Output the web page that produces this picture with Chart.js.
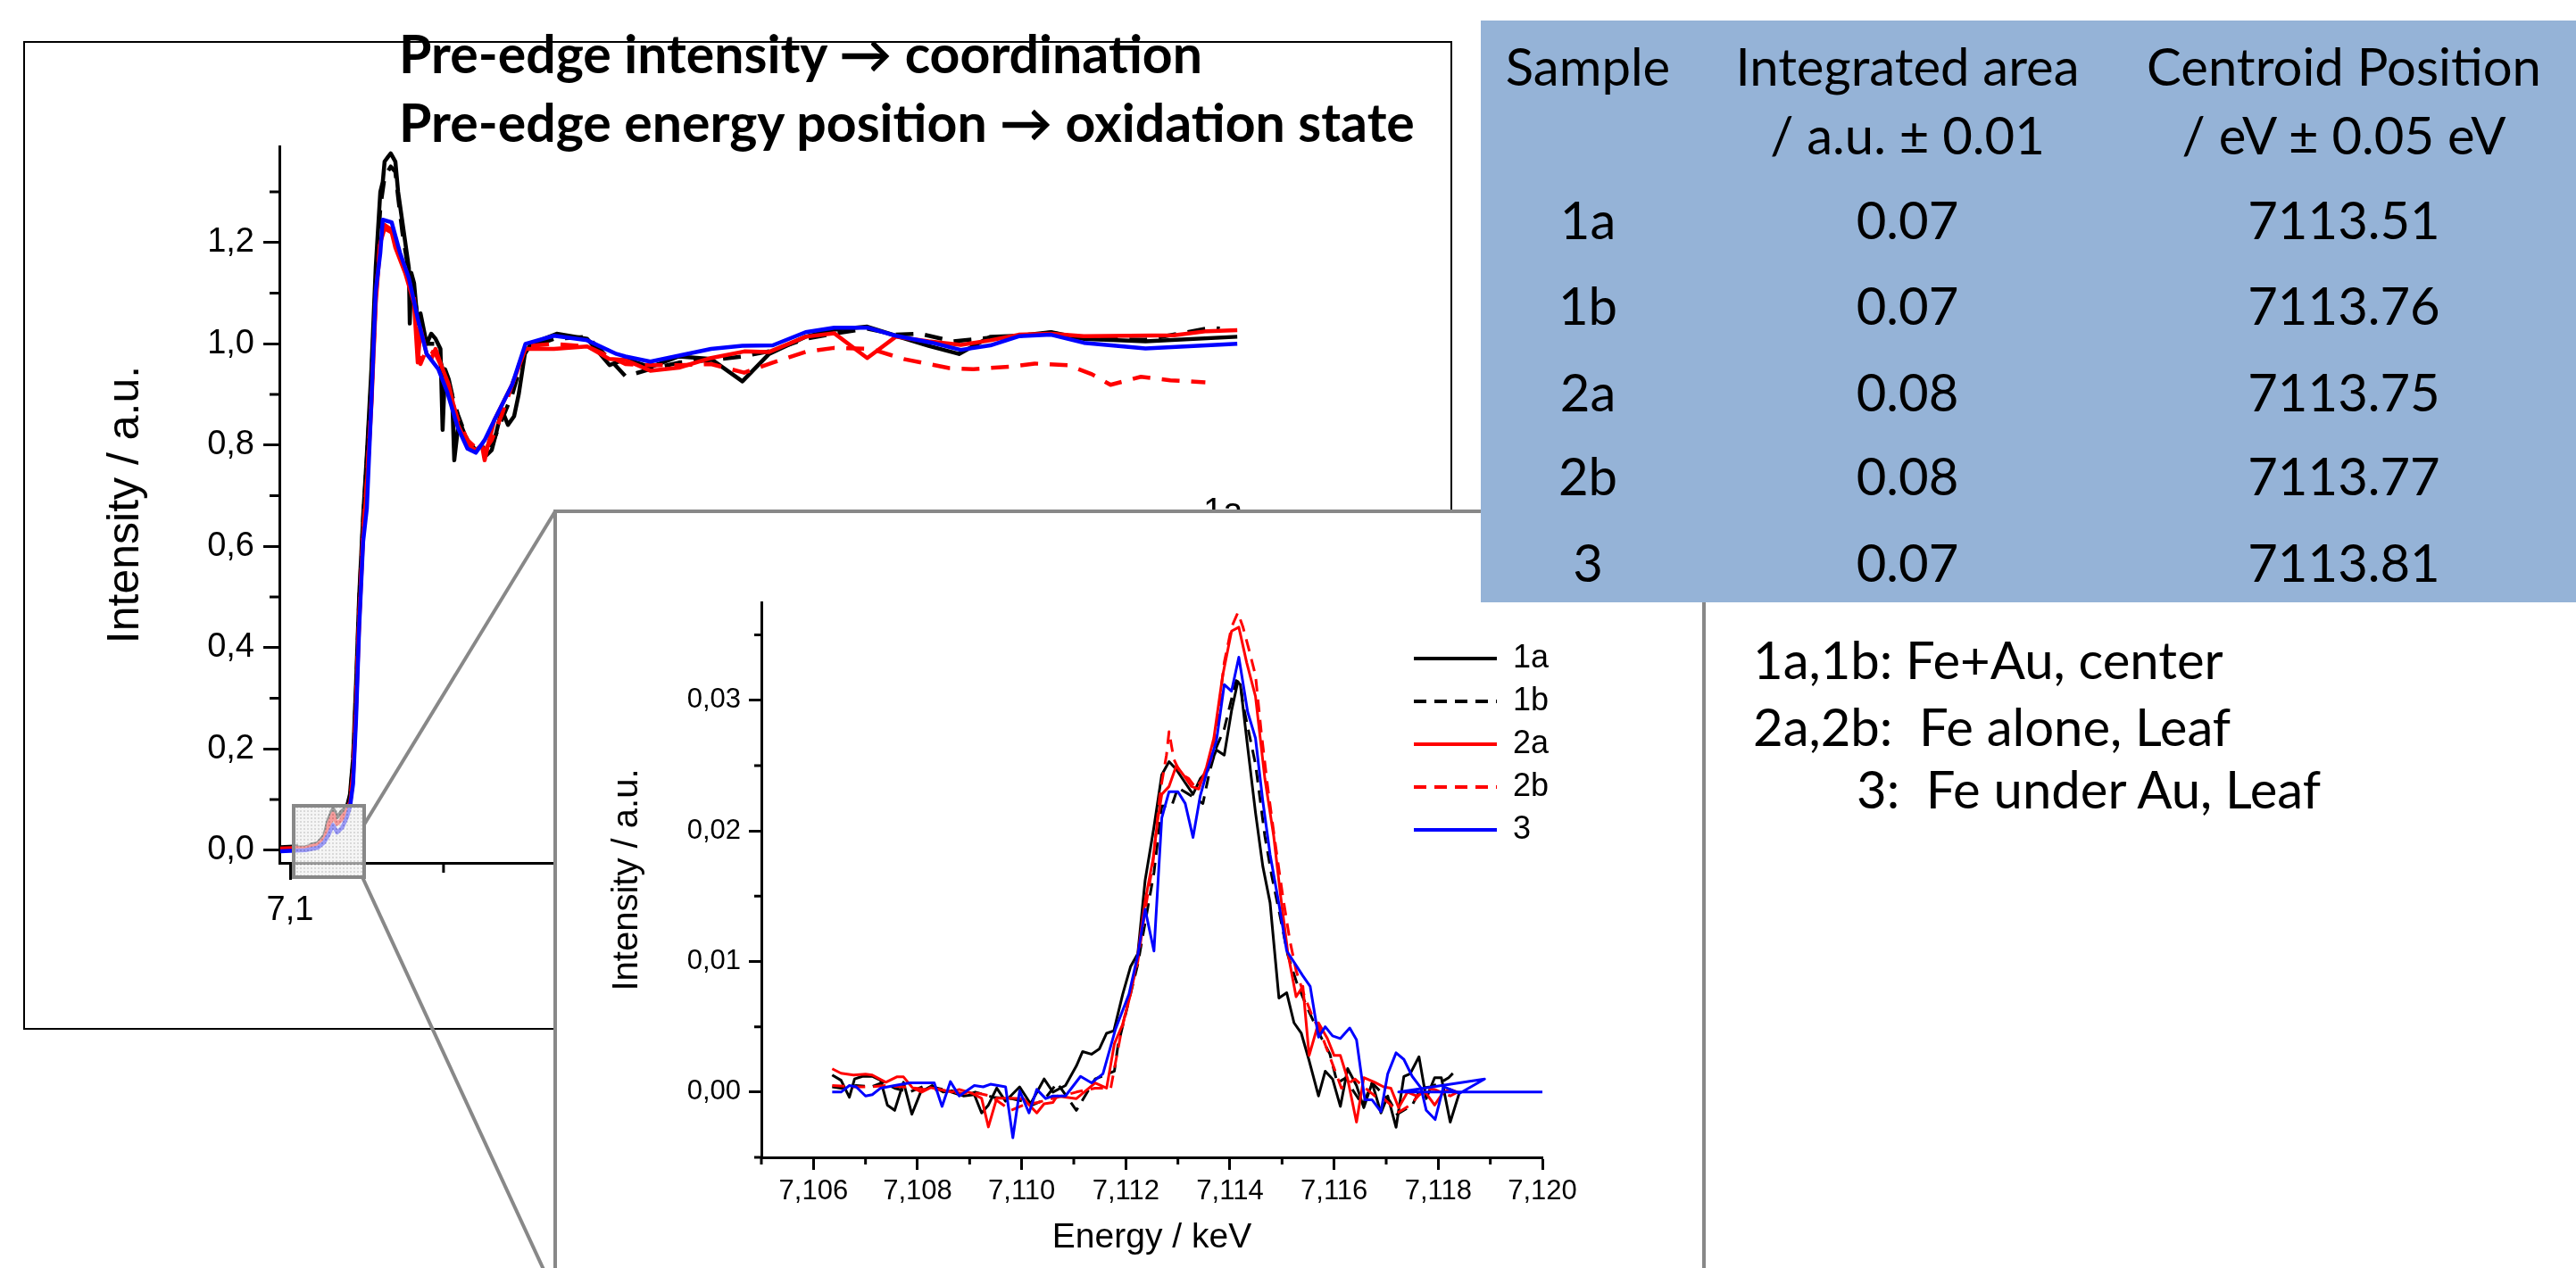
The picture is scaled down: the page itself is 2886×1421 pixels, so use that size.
<!DOCTYPE html>
<html>
<head>
<meta charset="utf-8">
<script src="https://cdn.jsdelivr.net/npm/chart.js@4.4.0/dist/chart.umd.min.js"></script>
<style>
  html, body { margin: 0; padding: 0; }
  body { width: 2886px; height: 1421px; overflow: hidden; position: relative; background: #fff; font-family: 'Liberation Sans', Arial, sans-serif; }
  .abs { position: absolute; }
  #mainBox { left: 26px; top: 46px; width: 1601px; height: 1108px; border: 2px solid #000; box-sizing: border-box; background: #fff; z-index: 1; }
  #mainBox canvas, #insetBox canvas { position: absolute; left: 0; top: 0; }
  .ttl { font-family: Lato, 'Open Sans', sans-serif; font-weight: 700; font-size: 59px; line-height: 59px; white-space: nowrap; z-index: 2; color: #000; }
  #zoomMarks { left: 0; top: 0; z-index: 2; }
  #insetBox { left: 620px; top: 571px; width: 1291px; height: 870px; border: 4px solid #888; box-sizing: border-box; background: #fff; z-index: 3; }
  #table { left: 1659px; top: 23px; width: 1227px; height: 652px; background: #95b3d7; z-index: 4; }
  .cell { position: absolute; transform: translate(-50%, -50%); font-family: Lato, 'Open Sans', sans-serif; font-size: 58px; white-space: pre; color: #000; }
  .note { font-family: Lato, 'Open Sans', sans-serif; font-size: 58px; line-height: 58px; white-space: pre; z-index: 4; color: #000; }
</style>
</head>
<body>

<div id="mainBox" class="abs"><canvas id="mainChart" width="1597" height="1104"></canvas></div>
<div class="abs ttl" style="left:447px; top:30px;">Pre-edge intensity → coordination</div>
<div class="abs ttl" style="left:447px; top:107px;">Pre-edge energy position → oxidation state</div>

<svg id="zoomMarks" class="abs" width="2886" height="1421">
  <defs>
    <pattern id="dots" width="4" height="4" patternUnits="userSpaceOnUse">
      <rect width="4" height="4" fill="#f0f0f0"/>
      <rect width="2" height="2" fill="#c4c4c4"/>
    </pattern>
  </defs>
  <rect x="329" y="903" width="79" height="80" fill="url(#dots)" fill-opacity="0.65" stroke="#888" stroke-width="4"/>
  <line x1="408" y1="924" x2="622" y2="573" stroke="#888" stroke-width="4"/>
  <line x1="406" y1="983" x2="617" y2="1440" stroke="#888" stroke-width="4"/>
</svg>

<div id="insetBox" class="abs"><canvas id="insetChart" width="1283" height="862"></canvas></div>

<div id="table" class="abs"></div>
<div id="notes"></div>

<script>
// ---- main XANES spectra: [energy / keV, intensity / a.u.] ----
const main1a = [[7.0968,0.004],[7.105,0.006],[7.109,0.012],[7.111,0.025],[7.1125,0.06],[7.114,0.082],[7.1153,0.065],[7.117,0.078],[7.1185,0.085],[7.1195,0.11],[7.1205,0.18],[7.1215,0.33],[7.1225,0.5],[7.1238,0.66],[7.125,0.78],[7.1265,0.95],[7.1279,1.15],[7.1294,1.30],[7.1302,1.32],[7.1308,1.36],[7.132,1.37],[7.1328,1.376],[7.1343,1.36],[7.1352,1.30],[7.1366,1.24],[7.1387,1.15],[7.139,1.04],[7.1395,1.14],[7.1404,1.12],[7.1416,1.04],[7.1425,1.06],[7.1445,1.0],[7.146,1.02],[7.1474,1.01],[7.149,0.99],[7.1497,0.83],[7.1505,0.95],[7.1517,0.93],[7.1528,0.9],[7.1535,0.77],[7.155,0.85],[7.157,0.82],[7.159,0.79],[7.1608,0.79],[7.1625,0.8],[7.164,0.78],[7.1657,0.79],[7.167,0.82],[7.169,0.87],[7.171,0.84],[7.173,0.857],[7.1745,0.9],[7.1765,0.98],[7.1785,1.0],[7.1869,1.02],[7.1968,1.01],[7.2041,0.958],[7.2093,0.97],[7.2174,0.954],[7.2267,0.975],[7.2372,0.97],[7.2474,0.926],[7.2561,0.98],[7.268,1.014],[7.2773,1.028],[7.2881,1.034],[7.2974,1.016],[7.3081,0.996],[7.318,0.98],[7.3282,1.014],[7.3375,1.016],[7.348,1.023],[7.3587,1.01],[7.3788,1.005],[7.4087,1.014]];
const main1b = [[7.0968,0.006],[7.105,0.008],[7.109,0.014],[7.111,0.028],[7.1125,0.058],[7.114,0.078],[7.1153,0.064],[7.117,0.074],[7.1185,0.084],[7.1195,0.105],[7.1205,0.17],[7.1215,0.31],[7.1225,0.49],[7.1238,0.65],[7.125,0.77],[7.1265,0.93],[7.1279,1.12],[7.1294,1.27],[7.1308,1.33],[7.1328,1.35],[7.1343,1.34],[7.1352,1.29],[7.1366,1.22],[7.1387,1.14],[7.1404,1.10],[7.1416,1.05],[7.1445,1.0],[7.1474,1.0],[7.1497,0.95],[7.1517,0.92],[7.1547,0.86],[7.1578,0.81],[7.1605,0.79],[7.1634,0.80],[7.1657,0.80],[7.169,0.85],[7.1724,0.90],[7.1767,0.99],[7.186,1.01],[7.1968,1.014],[7.2041,0.97],[7.2093,0.936],[7.2174,0.95],[7.2267,0.963],[7.2372,0.968],[7.2474,0.975],[7.2561,0.985],[7.268,1.01],[7.2773,1.02],[7.2881,1.03],[7.2974,1.018],[7.3052,1.02],[7.316,1.005],[7.3282,1.012],[7.3375,1.016],[7.348,1.022],[7.3587,1.01],[7.3788,1.008],[7.4003,1.032],[7.403,1.03]];
const main2a = [[7.0968,0.002],[7.105,0.004],[7.109,0.01],[7.111,0.02],[7.1125,0.045],[7.114,0.068],[7.1153,0.052],[7.117,0.062],[7.1185,0.075],[7.1195,0.09],[7.1205,0.14],[7.1215,0.28],[7.1225,0.45],[7.1238,0.62],[7.125,0.72],[7.1265,0.88],[7.1279,1.08],[7.1294,1.2],[7.1308,1.228],[7.1331,1.22],[7.1343,1.19],[7.1375,1.14],[7.1404,1.08],[7.1416,0.963],[7.1425,1.03],[7.1445,0.98],[7.146,0.97],[7.1474,0.99],[7.1497,0.95],[7.1517,0.92],[7.1547,0.84],[7.1578,0.80],[7.1605,0.79],[7.1625,0.80],[7.1634,0.77],[7.1645,0.80],[7.1666,0.85],[7.1724,0.92],[7.1767,0.99],[7.186,0.99],[7.1968,0.995],[7.2041,0.97],[7.2093,0.968],[7.2174,0.947],[7.2267,0.953],[7.2372,0.972],[7.248,0.985],[7.2561,0.984],[7.268,1.014],[7.2773,1.021],[7.2881,0.972],[7.2974,1.014],[7.3081,1.005],[7.3186,0.998],[7.3282,1.007],[7.3375,1.018],[7.348,1.02],[7.3587,1.015],[7.3881,1.017],[7.3988,1.025],[7.4087,1.027]];
const main2b = [[7.0968,0.003],[7.105,0.005],[7.109,0.011],[7.111,0.022],[7.1125,0.05],[7.114,0.072],[7.1153,0.055],[7.117,0.066],[7.1185,0.078],[7.1195,0.095],[7.1205,0.15],[7.1215,0.29],[7.1225,0.46],[7.1238,0.63],[7.125,0.73],[7.1265,0.89],[7.1279,1.09],[7.1294,1.21],[7.1308,1.235],[7.1331,1.225],[7.1343,1.2],[7.1375,1.15],[7.1404,1.09],[7.1416,1.0],[7.1425,0.96],[7.1445,0.99],[7.1474,0.98],[7.1497,0.95],[7.1517,0.91],[7.1547,0.85],[7.1578,0.81],[7.1605,0.795],[7.1634,0.79],[7.1657,0.81],[7.169,0.86],[7.1724,0.92],[7.1767,0.995],[7.186,1.0],[7.1968,0.995],[7.2041,0.975],[7.2093,0.96],[7.2174,0.958],[7.2267,0.958],[7.2372,0.96],[7.248,0.943],[7.2573,0.963],[7.268,0.984],[7.2773,0.992],[7.2892,0.99],[7.3,0.97],[7.3148,0.952],[7.3227,0.95],[7.3348,0.955],[7.3427,0.961],[7.3535,0.958],[7.3613,0.94],[7.3674,0.919],[7.3773,0.935],[7.3869,0.928],[7.3983,0.924]];
const main3 = [[7.0968,-0.002],[7.105,0.0],[7.109,0.005],[7.111,0.015],[7.1125,0.03],[7.114,0.05],[7.1153,0.035],[7.117,0.045],[7.1185,0.065],[7.1195,0.085],[7.1205,0.13],[7.1215,0.26],[7.1225,0.44],[7.1238,0.61],[7.125,0.675],[7.1265,0.887],[7.1279,1.104],[7.1294,1.18],[7.1302,1.245],[7.1331,1.24],[7.1358,1.18],[7.1387,1.13],[7.1416,1.05],[7.1445,0.98],[7.1483,0.95],[7.1512,0.905],[7.1547,0.834],[7.1578,0.793],[7.1605,0.785],[7.1634,0.81],[7.1666,0.85],[7.1724,0.92],[7.1767,1.0],[7.186,1.016],[7.1968,1.007],[7.2064,0.98],[7.2093,0.975],[7.2174,0.965],[7.2372,0.99],[7.2474,0.996],[7.2573,0.997],[7.268,1.023],[7.2773,1.032],[7.2881,1.032],[7.2974,1.016],[7.3093,1.002],[7.3186,0.988],[7.3282,0.997],[7.3375,1.015],[7.348,1.018],[7.3587,1.002],[7.3788,0.991],[7.4087,1.0]];

// ---- pre-edge (inset): [energy / keV, intensity / a.u.] ----
const pre1a = [[7.10636,0.0013],[7.10653,0.0009],[7.10669,-0.0004],[7.10679,0.001],[7.10694,0.0012],[7.10713,0.0012],[7.10729,0.0009],[7.10742,-0.001],[7.10756,-0.0014],[7.10773,0.00075],[7.10789,-0.0017],[7.10806,0.0],[7.10828,0.0005],[7.10849,0.0],[7.10866,0.0001],[7.10888,-0.0003],[7.10909,-0.0002],[7.10923,-0.0016],[7.10936,-0.001],[7.10952,0.0003],[7.10969,-0.0007],[7.10996,0.0004],[7.11017,-0.0009],[7.11043,0.001],[7.1106,0.0],[7.11084,0.0005],[7.11105,0.002],[7.11117,0.0031],[7.11134,0.0029],[7.11149,0.0033],[7.11163,0.0045],[7.11177,0.0047],[7.11194,0.0075],[7.11209,0.0096],[7.11223,0.0106],[7.11237,0.0162],[7.11254,0.0203],[7.11269,0.0243],[7.11283,0.0253],[7.11297,0.0247],[7.11312,0.0238],[7.11329,0.0228],[7.11343,0.024],[7.11357,0.0246],[7.11374,0.0262],[7.11389,0.0258],[7.11403,0.0292],[7.11415,0.0314],[7.1142,0.0312],[7.11434,0.0264],[7.11449,0.0214],[7.11463,0.0173],[7.11477,0.0145],[7.11494,0.0072],[7.11509,0.0076],[7.11523,0.0053],[7.11537,0.0045],[7.11552,0.0024],[7.1157,-0.0003],[7.11583,0.0016],[7.11597,0.001],[7.11612,-0.0011],[7.11626,0.0018],[7.11643,0.0005],[7.11657,-0.0012],[7.11673,0.0007],[7.1169,-0.0016],[7.11703,-0.0003],[7.11719,-0.0027],[7.11734,0.0012],[7.11746,0.0014],[7.11763,0.0027],[7.11777,-0.0005],[7.11793,0.0011],[7.11806,0.0011],[7.11823,-0.0023],[7.11841,0.0]];
const pre1b = [[7.10636,0.0004],[7.10653,0.0003],[7.10682,0.0005],[7.10712,0.0004],[7.10734,0.00075],[7.10756,0.0003],[7.10785,0.0],[7.10815,0.0005],[7.10849,0.0002],[7.10888,-0.0003],[7.10911,0.0],[7.10945,-0.0004],[7.10979,-0.0005],[7.11003,-0.0007],[7.1102,-0.001],[7.11043,-0.0006],[7.11068,0.0007],[7.11105,-0.0014],[7.11141,0.001],[7.11178,0.0016],[7.11185,0.0036],[7.11223,0.0098],[7.11254,0.0168],[7.11269,0.0219],[7.11288,0.0219],[7.113,0.0233],[7.11321,0.0228],[7.11348,0.0221],[7.1136,0.0244],[7.11374,0.0264],[7.11389,0.0278],[7.11403,0.0301],[7.11412,0.0315],[7.1142,0.0313],[7.11425,0.0297],[7.11449,0.0251],[7.11467,0.0196],[7.1148,0.0166],[7.11494,0.0139],[7.11511,0.0105],[7.11528,0.0084],[7.11549,0.0064],[7.11571,0.0045],[7.11592,0.0029],[7.11606,0.0007],[7.11623,0.0011],[7.11635,0.0002],[7.11655,-0.001],[7.11673,0.0007],[7.11707,-0.0007],[7.11721,-0.0017],[7.1175,-0.001],[7.11767,0.0003],[7.11786,0.0004],[7.11803,0.0007],[7.1182,0.0011],[7.11837,0.0018]];
const pre2a = [[7.10636,0.00178],[7.10653,0.00144],[7.10677,0.0013],[7.107,0.00137],[7.10713,0.0013],[7.10739,0.00075],[7.1076,0.00116],[7.10773,0.00116],[7.1079,0.00034],[7.10808,0.0],[7.10825,0.00034],[7.10842,0.0002],[7.10866,0.0],[7.1088,0.0002],[7.10905,-0.0001],[7.10923,-0.00048],[7.10936,-0.00267],[7.10952,-0.00048],[7.10979,-0.00048],[7.11003,-0.0005],[7.11029,-0.0016],[7.11043,-0.0009],[7.1106,-0.0008],[7.11068,-0.0003],[7.11105,-0.0005],[7.11141,0.0007],[7.11163,0.0003],[7.11178,0.0037],[7.11194,0.0052],[7.11209,0.0075],[7.11223,0.0105],[7.11237,0.0146],[7.11252,0.0178],[7.11261,0.0208],[7.11269,0.0228],[7.11283,0.0234],[7.11297,0.025],[7.11312,0.0242],[7.11326,0.0234],[7.1134,0.0232],[7.11355,0.0249],[7.11369,0.0271],[7.11386,0.0319],[7.11403,0.0353],[7.11417,0.0356],[7.11432,0.0329],[7.11449,0.0303],[7.11467,0.024],[7.11484,0.0196],[7.11497,0.0151],[7.11511,0.0107],[7.11527,0.0073],[7.1154,0.0081],[7.11552,0.0028],[7.1157,0.0053],[7.11587,0.0041],[7.116,0.0028],[7.11612,0.0028],[7.11626,0.001],[7.11643,-0.0023],[7.11657,0.0011],[7.11678,0.00075],[7.11695,0.0004],[7.11709,0.0003],[7.11724,-0.0012],[7.11741,0.0],[7.11758,-0.0003],[7.11775,0.0],[7.11793,-0.001],[7.1181,0.0],[7.11823,0.0002],[7.11837,0.0]];
const pre2b = [[7.10636,0.0005],[7.10677,0.0004],[7.10712,0.0004],[7.1074,0.0005],[7.1079,0.00034],[7.10815,0.0002],[7.10842,0.0002],[7.10866,0.0],[7.10888,-0.0001],[7.10917,-0.0001],[7.1094,-0.0003],[7.10979,-0.0014],[7.11003,-0.001],[7.11031,-0.0008],[7.11048,-0.0006],[7.11068,-0.0004],[7.11105,0.0],[7.11141,0.0003],[7.11171,0.0003],[7.11192,0.0048],[7.11223,0.0100],[7.11237,0.0139],[7.11252,0.0175],[7.11266,0.023],[7.11278,0.0258],[7.11283,0.0276],[7.11292,0.0255],[7.11305,0.0244],[7.11321,0.024],[7.11334,0.0233],[7.11348,0.024],[7.11364,0.0255],[7.11377,0.0288],[7.11389,0.0329],[7.11403,0.0356],[7.11415,0.0367],[7.11425,0.0356],[7.11437,0.0338],[7.11449,0.0319],[7.1146,0.0276],[7.11472,0.0235],[7.11485,0.0196],[7.11501,0.0151],[7.11515,0.0116],[7.11527,0.0093],[7.1154,0.0077],[7.11561,0.0055],[7.1157,0.005],[7.11604,0.0014],[7.11614,0.0003],[7.1164,0.001],[7.11657,0.0004],[7.11678,-0.0003],[7.11695,-0.0005],[7.11709,-0.001],[7.11721,-0.0016],[7.11734,-0.0013],[7.11746,-0.001],[7.11775,0.0003],[7.11793,0.0002],[7.11823,-0.0003],[7.11837,0.0]];
const pre3 = [[7.10636,0.0],[7.10653,0.0],[7.10669,0.0005],[7.10682,0.0004],[7.107,-0.0003],[7.10713,-0.0002],[7.10729,0.0003],[7.10756,0.0005],[7.10785,0.0007],[7.10808,0.0007],[7.10832,0.0007],[7.10847,-0.0011],[7.10863,0.0008],[7.1088,-0.0003],[7.10909,0.0005],[7.10926,0.0004],[7.1094,0.0006],[7.10969,0.0004],[7.10983,-0.0035],[7.10996,0.0001],[7.11014,-0.0016],[7.11029,0.0002],[7.11046,-0.0005],[7.1106,-0.0003],[7.11084,-0.0003],[7.11113,0.0012],[7.11134,0.0007],[7.11156,0.0014],[7.1118,0.0048],[7.11206,0.0075],[7.11223,0.0105],[7.11237,0.014],[7.11254,0.0108],[7.11269,0.021],[7.11283,0.023],[7.113,0.023],[7.11314,0.0221],[7.11329,0.0195],[7.11343,0.0227],[7.11357,0.0247],[7.11374,0.0269],[7.11389,0.0312],[7.11403,0.0307],[7.11417,0.0333],[7.11434,0.0291],[7.11449,0.0271],[7.11463,0.0223],[7.11477,0.0182],[7.11494,0.0144],[7.11509,0.0108],[7.11527,0.0097],[7.1154,0.0089],[7.11554,0.0081],[7.1157,0.0042],[7.11583,0.005],[7.11597,0.0043],[7.11612,0.0041],[7.1163,0.0049],[7.11643,0.004],[7.11659,-0.0006],[7.11673,-0.0006],[7.1169,-0.0015],[7.11703,0.0014],[7.11719,0.003],[7.11734,0.0025],[7.1175,0.0012],[7.11767,0.0003],[7.11777,-0.0014],[7.11794,-0.0021],[7.1181,0.0004],[7.11823,0.0002],[7.11841,-0.0001],[7.11889,0.001],[7.11724,0.0],[7.12,0.0]];

// ---- axis ticks ----
const mainXMajor = [7.1, 7.2, 7.3, 7.4];
const mainXMinor = [7.15, 7.25, 7.35];
const mainYMajor = [0, 0.2, 0.4, 0.6, 0.8, 1.0, 1.2];
const mainYMinor = [0.1, 0.3, 0.5, 0.7, 0.9, 1.1, 1.3];
const insetXMajor = [7.106, 7.108, 7.110, 7.112, 7.114, 7.116, 7.118, 7.120];
const insetXMinor = [7.105, 7.107, 7.109, 7.111, 7.113, 7.115, 7.117, 7.119];
const insetYMajor = [0, 0.01, 0.02, 0.03];
const insetYMinor = [-0.005, 0.005, 0.015, 0.025, 0.035];

// ---- table + notes ----
const samples = ['1a', '1b', '2a', '2b', '3'];
const areas = ['0.07', '0.07', '0.08', '0.08', '0.07'];
const centroids = ['7113.51', '7113.76', '7113.75', '7113.77', '7113.81'];
const notes = ['1a,1b: Fe+Au, center', '2a,2b:  Fe alone, Leaf', '3:  Fe under Au, Leaf'];

Chart.defaults.font.family = "'Liberation Sans', Arial, sans-serif";
Chart.defaults.color = '#000';

const pts = arr => arr.map(([x, y]) => ({x, y}));

function series(label, arr, color, dash, width, order) {
  return {
    label: label, data: pts(arr), borderColor: color, backgroundColor: color,
    borderDash: dash, borderWidth: width, showLine: true, pointRadius: 0,
    tension: 0, borderJoinStyle: 'round', order: order
  };
}

// short ticks between the labelled ones
const minorTicks = {
  id: 'minorTicks',
  afterDraw(chart, args, opts) {
    const ctx = chart.ctx, xs = chart.scales.x, ys = chart.scales.y;
    ctx.save();
    ctx.strokeStyle = '#000';
    ctx.lineWidth = opts.width;
    ctx.beginPath();
    opts.x.forEach(v => { const p = xs.getPixelForValue(v); ctx.moveTo(p, xs.top); ctx.lineTo(p, xs.top + opts.len); });
    opts.y.forEach(v => { const p = ys.getPixelForValue(v); ctx.moveTo(ys.right, p); ctx.lineTo(ys.right - opts.len, p); });
    ctx.stroke();
    ctx.restore();
  }
};

// put the legend inside the plot where the original has it
const legendPlace = {
  id: 'legendPlace',
  afterLayout(chart, args, opts) {
    const lg = chart.legend;
    if (!lg) return;
    const w = lg.width, h = lg.height;
    lg.left = opts.left; lg.right = opts.left + w;
    lg.top = opts.top; lg.bottom = opts.top + h;
  }
};

function axis(min, max, major, fmt, fontSize, tickLen, pad, size, title) {
  return {
    type: 'linear', min: min, max: max,
    afterBuildTicks: s => { s.ticks = major.map(v => ({value: v})); },
    afterFit: s => { if (s.isHorizontal()) s.height = size; else s.width = size; },
    border: {display: true, color: '#000', width: 3},
    grid: {drawOnChartArea: false, drawTicks: true, tickLength: tickLen, tickWidth: 3, tickColor: '#000', color: '#000'},
    ticks: {autoSkip: false, maxRotation: 0, padding: pad, font: {size: fontSize}, callback: fmt},
    title: title
  };
}

function legendOpts(fontSize, lineW) {
  return {
    position: 'chartArea', align: 'start',
    labels: {
      usePointStyle: true, pointStyle: 'line', pointStyleWidth: 93, padding: 12,
      font: {size: fontSize}, color: '#000',
      generateLabels: chart => chart.data.datasets.map((d, i) => ({
        text: d.label, fillStyle: d.borderColor, strokeStyle: d.borderColor,
        lineWidth: lineW, lineDash: d.borderDash, lineDashOffset: 0,
        lineCap: 'butt', lineJoin: 'miter', pointStyle: 'line', rotation: 0,
        hidden: false, datasetIndex: i, fontColor: '#000'
      }))
    }
  };
}

new Chart(document.getElementById('mainChart'), {
  type: 'scatter',
  data: {
    datasets: [
      series('1a', main1a, '#000000', [], 4.5, 4),
      series('1b', main1b, '#000000', [20, 13], 4.5, 3),
      series('2a', main2a, '#ff0000', [], 4.5, 2),
      series('2b', main2b, '#ff0000', [20, 13], 4.5, 1),
      series('3', main3, '#0000ff', [], 4.5, 0)
    ]
  },
  options: {
    responsive: false, animation: false, devicePixelRatio: 1, events: [],
    layout: {padding: {left: 0, top: 116, right: 200, bottom: 85}},
    scales: {
      x: axis(7.0965, 7.42, mainXMajor, v => v.toFixed(1).replace('.', ','), 38, 19, 12, 100, {display: false}),
      y: axis(-0.025, 1.39, mainYMajor, v => v.toFixed(1).replace('.', ','), 38, 18, 10, 285,
        {display: true, text: 'Intensity / a.u.', font: {size: 50}, padding: {top: 83, bottom: 0}})
    },
    plugins: {
      legend: legendOpts(40, 4.5),
      legendPlace: {left: 1195, top: 495},
      tooltip: {enabled: false},
      minorTicks: {x: mainXMinor, y: mainYMinor, len: 11, width: 3}
    }
  },
  plugins: [minorTicks, legendPlace]
});

new Chart(document.getElementById('insetChart'), {
  type: 'scatter',
  data: {
    datasets: [
      series('1a', pre1a, '#000000', [], 3, 4),
      series('1b', pre1b, '#000000', [14, 9], 3, 3),
      series('2a', pre2a, '#ff0000', [], 3, 2),
      series('2b', pre2b, '#ff0000', [14, 9], 3, 1),
      series('3', pre3, '#0000ff', [], 3, 0)
    ]
  },
  options: {
    responsive: false, animation: false, devicePixelRatio: 1, events: [],
    layout: {padding: {left: 0, top: 100, right: 179, bottom: 0}},
    scales: {
      x: axis(7.105, 7.12, insetXMajor, v => v.toFixed(3).replace('.', ','), 31, 14, 6, 140,
        {display: true, text: 'Energy / keV', font: {size: 39}, padding: {top: 0, bottom: 26}}),
      y: axis(-0.005, 0.0375, insetYMajor, v => v.toFixed(2).replace('.', ','), 31, 14, 9, 229,
        {display: true, text: 'Intensity / a.u.', font: {size: 40}, padding: {top: 55, bottom: 0}})
    },
    plugins: {
      legend: legendOpts(36, 4),
      legendPlace: {left: 948, top: 133},
      tooltip: {enabled: false},
      minorTicks: {x: insetXMinor, y: insetYMinor, len: 8, width: 3}
    }
  },
  plugins: [minorTicks, legendPlace]
});

// table of pre-edge fits
const table = document.getElementById('table');
const colX = [120, 478, 967];
const headY = [50, 127];
const rowY = [222, 318, 415, 509, 606];
function cell(text, x, y) {
  const d = document.createElement('div');
  d.className = 'cell';
  d.style.left = x + 'px';
  d.style.top = y + 'px';
  d.textContent = text;
  table.appendChild(d);
}
cell('Sample', colX[0], headY[0]);
cell('Integrated area', colX[1], headY[0]);
cell('/ a.u. ± 0.01', colX[1], headY[1]);
cell('Centroid Position', colX[2], headY[0]);
cell('/ eV ± 0.05 eV', colX[2], headY[1]);
samples.forEach((s, i) => {
  cell(s, colX[0], rowY[i]);
  cell(areas[i], colX[1], rowY[i]);
  cell(centroids[i], colX[2], rowY[i]);
});

const noteLeft = [1964, 1964, 2080];
const noteTop = [710, 785, 855];
notes.forEach((t, i) => {
  const d = document.createElement('div');
  d.className = 'abs note';
  d.style.left = noteLeft[i] + 'px';
  d.style.top = noteTop[i] + 'px';
  d.textContent = t;
  document.body.appendChild(d);
});
</script>
</body>
</html>
